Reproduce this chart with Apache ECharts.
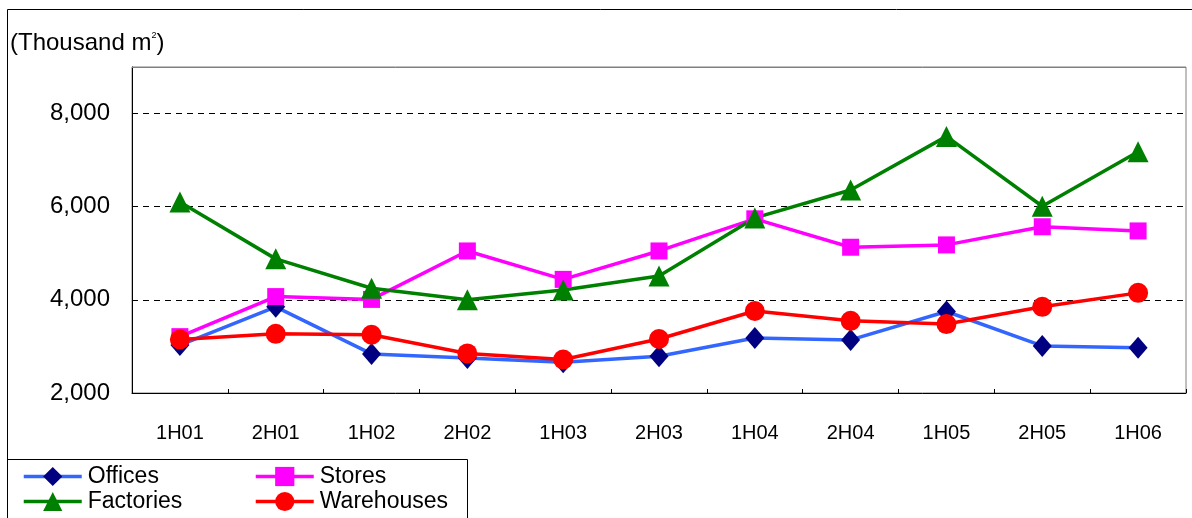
<!DOCTYPE html>
<html>
<head>
<meta charset="utf-8">
<title>Floor space by building type</title>
<script src="https://cdn.jsdelivr.net/npm/echarts@6/dist/echarts.min.js"></script>
<style>
  html, body { margin: 0; padding: 0; background: #fff; }
  #chart { width: 1192px; height: 518px; }
</style>
</head>
<body>
<div id="chart"></div>
<script>
// Half-year periods
const periods = ['1H01', '2H01', '1H02', '2H02', '1H03', '2H03', '1H04', '2H04', '1H05', '2H05', '1H06'];

// Floor space, thousand m²
const offices    = [3030, 3850, 2840, 2750, 2660, 2790, 3180, 3140, 3750, 3010, 2970];
const stores     = [3210, 4070, 4010, 5050, 4440, 5050, 5740, 5130, 5180, 5570, 5480];
const factories  = [6100, 4880, 4250, 4000, 4210, 4510, 5760, 6360, 7510, 6010, 7180];
const warehouses = [3150, 3270, 3250, 2850, 2720, 3160, 3760, 3550, 3480, 3850, 4150];

// Value axis range and gridline step
const yMin = 2000;
const yMax = 9000;
const yStep = 2000;

const FONT = 'Arial, "Liberation Sans", sans-serif';

const chart = echarts.init(document.getElementById('chart'), null, { renderer: 'canvas' });

function lineSeries(name, data, lineColor, markColor, symbol, size) {
  return {
    name: name,
    type: 'line',
    data: data,
    symbol: symbol,
    symbolSize: size,
    showAllSymbol: true,
    lineStyle: { color: lineColor, width: 3.5 },
    itemStyle: { color: markColor, borderWidth: 0 },
    emphasis: { disabled: true },
    animation: false
  };
}

const legendBase = {
  top: 465, orient: 'vertical', padding: 0,
  itemWidth: 58, itemHeight: 24, itemGap: 2,
  textStyle: { fontFamily: FONT, fontSize: 23, color: '#000', padding: [0, 0, 0, 1] },
  lineStyle: { width: 3.5 },
  selectedMode: false
};

chart.setOption({
  backgroundColor: '#fff',
  animation: false,
  title: {
    left: 10,
    top: 31,
    padding: 0,
    text: '{a|(Thousand m}{s|2}{a|)}',
    textStyle: {
      rich: {
        a: { fontFamily: FONT, fontSize: 24, fontWeight: 'normal', color: '#000' },
        s: { fontFamily: FONT, fontSize: 9, fontWeight: 'normal', color: '#000', verticalAlign: 'top', padding: [0, 0, 12, 0] }
      }
    }
  },
  legend: [
    Object.assign({}, legendBase, { left: 22, data: ['Offices', 'Factories'] }),
    Object.assign({}, legendBase, { left: 254, data: ['Stores', 'Warehouses'] })
  ],
  grid: {
    left: 132, top: 67, right: 6, bottom: 125,
    show: true, borderColor: '#808080', borderWidth: 1, backgroundColor: 'transparent'
  },
  xAxis: {
    type: 'category',
    data: periods,
    boundaryGap: true,
    axisLine: { lineStyle: { color: '#000', width: 1 } },
    axisTick: { show: true, inside: true, length: 4, alignWithLabel: false, lineStyle: { color: '#000' } },
    axisLabel: { fontFamily: FONT, fontSize: 20, color: '#000', margin: 30 },
    splitLine: { show: false }
  },
  yAxis: {
    type: 'value',
    min: yMin,
    max: yMax,
    interval: yStep,
    axisLine: { show: true, lineStyle: { color: '#000', width: 1 } },
    axisTick: { show: false },
    axisLabel: {
      fontFamily: FONT, fontSize: 24, color: '#000', margin: 22,
      formatter: function (v) { return v > 8000 ? '' : v.toLocaleString('en-US'); }
    },
    splitLine: { show: true, lineStyle: { color: '#000', type: [6, 5], width: 1 } }
  },
  graphic: [
    // outer chart frame
    { type: 'rect', shape: { x: 7.5, y: 9.5, width: 1200, height: 520 },
      style: { fill: 'none', stroke: '#000', lineWidth: 1 }, z: 0, silent: true },
    // legend box
    { type: 'rect', shape: { x: 7.5, y: 459.5, width: 460, height: 70 },
      style: { fill: 'none', stroke: '#000', lineWidth: 1 }, z: 0, silent: true },
    // top edge of the plot area
    { type: 'line', shape: { x1: 132, y1: 67.5, x2: 1186, y2: 67.5 },
      style: { stroke: '#808080', lineWidth: 1 }, z: 100, silent: true }
  ],
  series: [
    lineSeries('Offices', offices, '#3366FF', '#000080', 'diamond', [19, 22]),
    lineSeries('Stores', stores, '#FF00FF', '#FF00FF', 'rect', 17),
    lineSeries('Factories', factories, '#008000', '#008000', 'triangle', 21),
    lineSeries('Warehouses', warehouses, '#FF0000', '#FF0000', 'circle', 20)
  ]
});
</script>
</body>
</html>
